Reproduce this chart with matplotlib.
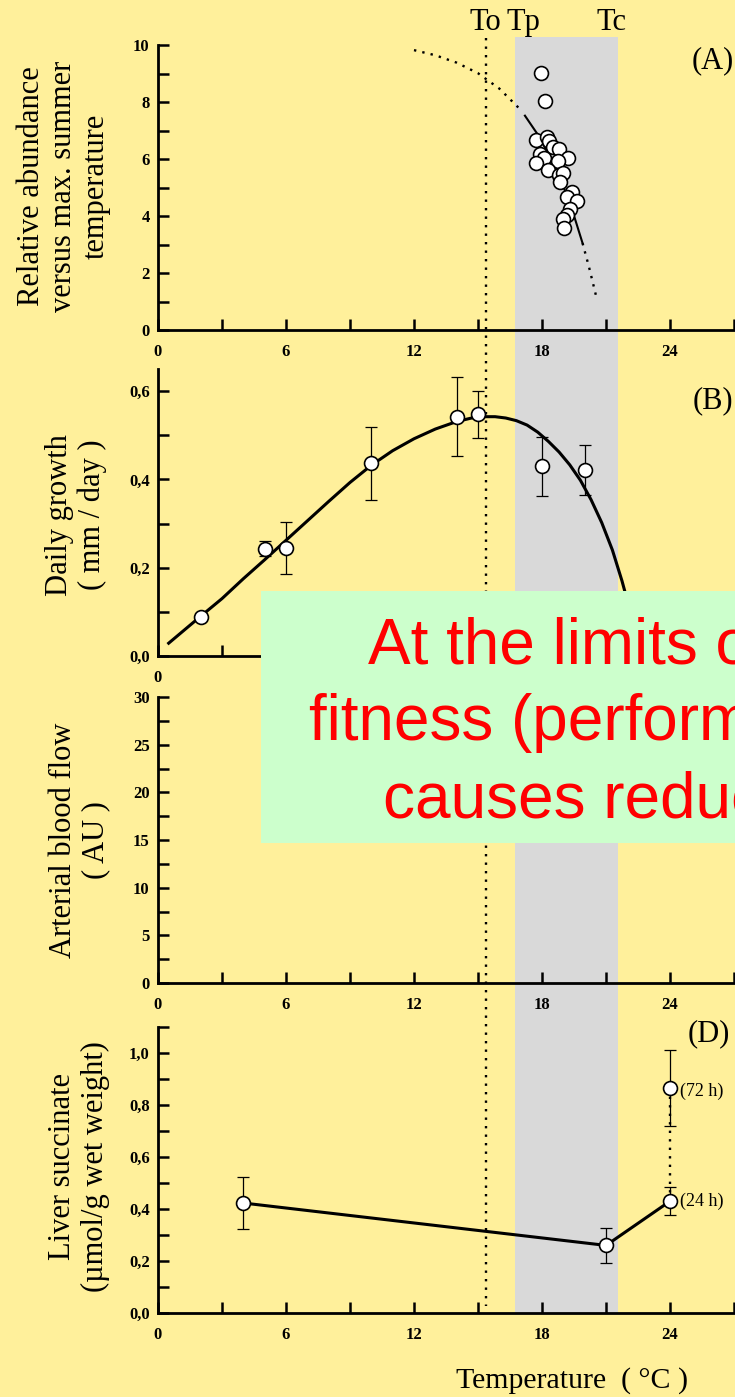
import matplotlib
matplotlib.use('Agg')
import matplotlib.pyplot as plt

# figure size in pixels
W, H = 735, 1397

# (A) relative abundance versus max. summer temperature
abund_temp = [17.97, 18.14, 17.72, 18.22, 18.35, 18.53, 18.81, 17.91, 18.10, 19.20, 17.72, 18.77,
              18.27, 18.81, 18.97, 18.85, 19.39, 19.16, 19.63, 19.32, 19.16, 19.00, 19.05]
abund_val = [9.03, 8.04, 6.67, 6.78, 6.64, 6.43, 6.35, 6.18, 6.02, 6.02, 5.85, 5.93,
             5.61, 5.44, 5.50, 5.20, 4.85, 4.68, 4.53, 4.23, 4.04, 3.89, 3.57]
abund_fit_temp = [12, 13, 14, 15, 16, 16.9, 17.2, 17.8, 18.4, 19.0, 19.5, 19.9, 20.2, 20.55]
abund_fit_val = [9.82, 9.64, 9.38, 9.01, 8.47, 7.80, 7.52, 6.86, 6.05, 5.04, 4.01, 3.05, 2.22, 1.15]

# (B) daily growth
growth_temp = [2, 5, 6, 10, 14, 15, 18, 20]
growth_val = [0.088, 0.243, 0.245, 0.436, 0.542, 0.547, 0.430, 0.422]
growth_err = [0.0, 0.017, 0.059, 0.083, 0.090, 0.054, 0.067, 0.057]
growth_fit_temp = [0.5, 2, 3, 4, 5, 6, 7, 8, 9, 10, 11, 12, 13, 14, 14.7, 15.3, 15.8, 16.3,
                   16.8, 17.3, 17.8, 18.3, 18.8, 19.3, 19.8, 20.3, 20.8, 21.3, 21.75, 22.2, 22.6]
growth_fit_val = [0.029, 0.090, 0.130, 0.175, 0.218, 0.262, 0.306, 0.350, 0.393, 0.432, 0.465,
                  0.492, 0.514, 0.531, 0.539, 0.542, 0.542, 0.539, 0.533, 0.523, 0.507, 0.486,
                  0.462, 0.433, 0.398, 0.354, 0.302, 0.240, 0.170, 0.090, 0.020]

# (D) liver succinate, 24 h exposure and 72 h at 24 degC
succ_temp = [4, 21, 24]
succ_val = [0.423, 0.260, 0.430]
succ_err = [0.100, 0.067, 0.053]
succ72_temp = 24
succ72_val = 0.865
succ72_err = 0.145

# thermal thresholds
t_o = 15.38
t_p = 16.75
t_c = 21.55

x_ticks = [0, 6, 12, 18, 24]
x_labels = ['0', '6', '12', '18', '24']
x_labels_b = ['0', '', '', '', '']
x_minor = [3, 9, 15, 21, 27]

yticks_a = [0, 2, 4, 6, 8, 10]
ylabels_a = ['0', '2', '4', '6', '8', '10']
yticks_b = [0.0, 0.2, 0.4, 0.6]
ylabels_b = ['0,0', '0,2', '0,4', '0,6']
yticks_c = [0, 5, 10, 15, 20, 25, 30]
ylabels_c = ['0', '5', '10', '15', '20', '25', '30']
yticks_d = [0.0, 0.2, 0.4, 0.6, 0.8, 1.0]
ylabels_d = ['0,0', '0,2', '0,4', '0,6', '0,8', '1,0']

BG = '#FFF09B'
BAND = '#D9D9D9'
DOTS = (0, (1, 2.6))

plt.rcParams['font.family'] = 'serif'
plt.rcParams['font.serif'] = ['Liberation Serif', 'DejaVu Serif']

fig = plt.figure(figsize=(W / 100, H / 100), dpi=100, facecolor=BG)

left = 158 / W
width = 640 / W


def panel(top, bottom, ylim, yticks, ylabels, ymin_step, xlabels=x_labels):
    ax = fig.add_axes([left, 1 - bottom / H, width, (bottom - top) / H])
    ax.set_facecolor('none')
    ax.set_xlim(0, 30)
    ax.set_ylim(*ylim)
    for s in ['top', 'right']:
        ax.spines[s].set_visible(False)
    for s in ['left', 'bottom']:
        ax.spines[s].set_linewidth(2)
    ax.set_xticks(x_ticks, xlabels, fontweight='bold', fontsize=12)
    ax.set_xticks(x_minor, minor=True)
    ax.set_yticks(yticks, ylabels, fontweight='bold', fontsize=12)
    minors = []
    v = ylim[0]
    while v <= ylim[1] + 1e-9:
        minors.append(v)
        v += ymin_step
    ax.set_yticks([m for m in minors if min(abs(m - t) for t in yticks) > 1e-6], minor=True)
    ax.tick_params(which='both', direction='in', length=8, width=1.8)
    ax.tick_params(axis='x', which='both', pad=10)
    ax.tick_params(axis='y', which='both', pad=6)
    return ax


# background layer in pixel rows: grey tolerance band and optimum line
bg = fig.add_axes([left, 0, width, 1], zorder=-1)
bg.set_xlim(0, 30)
bg.set_ylim(H, 0)
bg.set_axis_off()
bg.fill_betweenx([37, 1313], t_p, t_c, color=BAND, lw=0)
bg.plot([t_o, t_o], [38, 1306], color='black', lw=1.7, linestyle=DOTS)
bg.text(15.33, 30, 'To', ha='center', va='baseline', fontsize=22)
bg.text(17.15, 30, 'Tp', ha='center', va='baseline', fontsize=22)
bg.text(21.25, 30, 'Tc', ha='center', va='baseline', fontsize=22)
bg.text(26.0, 61, '(A)', ha='center', va='center', fontsize=22)
bg.text(26.0, 401, '(B)', ha='center', va='center', fontsize=22)
bg.text(25.8, 1034, '(D)', ha='center', va='center', fontsize=22)

marker = dict(marker='o', ms=10, mfc='white', mec='black', mew=1.2, ls='none', zorder=4)
ebar = dict(fmt='none', ecolor='black', elinewidth=0.9, capsize=4.3, capthick=0.9, zorder=3)

# (A)
ax_a = panel(45, 330, (0, 10), yticks_a, ylabels_a, 1)
ax_a.plot(abund_fit_temp[:6], abund_fit_val[:6], color='black', lw=1.7, linestyle=DOTS)
ax_a.plot(abund_fit_temp[6:12], abund_fit_val[6:12], color='black', lw=1.5)
ax_a.plot(abund_fit_temp[11:], abund_fit_val[11:], color='black', lw=1.7, linestyle=DOTS)
ax_a.plot(abund_temp, abund_val, **marker)

# (B)
ax_b = panel(369, 656, (0, 0.65), yticks_b, ylabels_b, 0.1, xlabels=x_labels_b)
ax_b.plot(growth_fit_temp, growth_fit_val, color='black', lw=2.2, zorder=2)
ax_b.errorbar(growth_temp, growth_val, yerr=growth_err, **ebar)
ax_b.plot(growth_temp, growth_val, **marker)

# (C)
ax_c = panel(697, 983, (0, 30), yticks_c, ylabels_c, 2.5)

# (D)
ax_d = panel(1027, 1313, (0, 1.1), yticks_d, ylabels_d, 0.1)
ax_d.plot(succ_temp, succ_val, color='black', lw=2.2, zorder=2)
ax_d.plot([succ72_temp, succ72_temp], [succ_val[-1], succ72_val], color='black', lw=1.7,
          linestyle=DOTS, zorder=2)
ax_d.errorbar(succ_temp, succ_val, yerr=succ_err, **ebar)
ax_d.errorbar([succ72_temp], [succ72_val], yerr=[succ72_err], **ebar)
ax_d.plot(succ_temp, succ_val, **marker)
ax_d.plot([succ72_temp], [succ72_val], **marker)
ax_d.annotate('(72 h)', (succ72_temp, succ72_val), xytext=(7, -2), textcoords='offset points',
              ha='left', va='center', fontsize=13)
ax_d.annotate('(24 h)', (succ_temp[-1], succ_val[-1]), xytext=(7, 0), textcoords='offset points',
              ha='left', va='center', fontsize=13)

# axis titles
ylab = dict(rotation=90, ha='center', va='center', multialignment='center', fontsize=22,
            linespacing=1.15)
fig.text(64 / W, 1 - 186 / H, 'Relative abundance\nversus max. summer\ntemperature', **ylab)
fig.text(76 / W, 1 - 515 / H, 'Daily growth\n( mm / day )', **ylab)
fig.text(80 / W, 1 - 840 / H, 'Arterial blood flow\n( AU )', **ylab)
fig.text(79 / W, 1 - 1167 / H, 'Liver succinate\n(µmol/g wet weight)', **ylab)
fig.text(572 / W, 1 - 1388 / H, 'Temperature  ( °C )', ha='center', va='baseline', fontsize=21.5)

# message box laid over the lower panels
fig.add_artist(plt.Rectangle((261 / W, 1 - 843 / H), 1.0, (843 - 591) / H,
                             transform=fig.transFigure, facecolor='#CCFFCC', lw=0, zorder=10))
msg = dict(color='#FF0000', fontsize=46, family='Liberation Sans', ha='left', va='baseline',
           zorder=11)
fig.text(368 / W, 1 - 663 / H, 'At the limits of thermal tolerance', **msg)
fig.text(309 / W, 1 - 740 / H, 'fitness (performance) declines and', **msg)
fig.text(383 / W, 1 - 817 / H, 'causes reduced abundance', **msg)

fig.savefig('out.png', dpi=100, facecolor=BG)
